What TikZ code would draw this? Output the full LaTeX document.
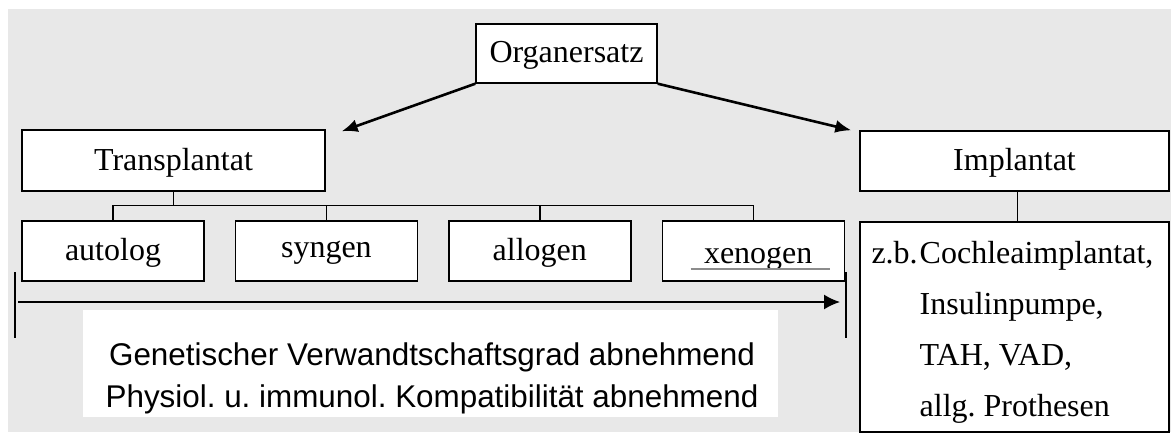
\documentclass[tikz,border=0pt]{standalone}
\usepackage{fontspec}
\setmainfont{Liberation Serif}
\setsansfont{Liberation Sans}
\usetikzlibrary{positioning,arrows.meta}
\definecolor{bggray}{RGB}{232,232,232}
\definecolor{linegray}{RGB}{140,140,140}

\begin{document}
\begin{tikzpicture}[
        x=0.5pt, y=-0.5pt,
        % Abstand zwischen den Unterkaesten
        node distance=15pt,
        box/.style={rectangle, draw, fill=white, line width=0.7pt, inner sep=0pt, text depth=1.6pt, font=\fontsize{16}{19}\selectfont},
        kind/.style={box, minimum width=91pt, minimum height=30pt},
        branch/.style={line width=0.7pt},
        pointer/.style={-{Latex[length=8pt,width=6.5pt]}, line width=1.3pt}
    ]
    \useasboundingbox (0,0) rectangle (1171,433);
    \fill[bggray] (8,9) rectangle (1171,432);

    \node [box, minimum width=90.5pt, minimum height=29.5pt] (organ) at (566.5,53.5) {Organersatz};
    \node [box, minimum width=151.5pt, minimum height=30.5pt] (trans) at (173.5,160.5) {Transplantat};
    \node [box, minimum width=154.5pt, minimum height=30pt] (impl) at (1014.5,161) {Implantat};

    \node [kind] (auto) at (113,251) {autolog};
    \node [kind, right=of auto] (syn) {syngen};
    \node [kind, right=of syn] (allo) {allogen};
    \node [kind, right=of allo, text height=13.6pt] (xeno) {\hspace*{5pt}xenogen};
    \draw[linegray, line width=0.8pt] ([shift={(29,-13)}]xeno.south west) -- ([shift={(-15,-13)}]xeno.south east);

    \node [box, minimum width=154.5pt, minimum height=105pt] (impllist) at (1014.5,327) {};
    \node [anchor=north west, inner sep=0pt, align=left, font=\fontsize{16}{25.5}\selectfont] (impltext)
        at ([shift={(60,20)}]impllist.north west)
        {\llap{z.b.\kern1pt}Cochleaimplantat,\\Insulinpumpe,\\TAH, VAD,\\allg.\ Prothesen};

    \draw[pointer] (organ.south west) -- ([xshift=8pt,yshift=-1pt]trans.north east);
    \draw[pointer] (organ.south east) -- ([xshift=-4pt]impl.north west);

    % Verzweigung
    \draw[branch] (trans.south) -- ([yshift=7.5pt]trans.south |- auto.north);
    \draw[branch] (auto.north) -- ++(0,-15) -| (xeno.north);
    \draw[branch] (syn.north) -- ++(0,-15);
    \draw[branch] (allo.north) -- ++(0,-15);
    \draw[branch] ([xshift=1.5pt]impl.south) -- ([xshift=1.5pt]impllist.north);

    % Verwandtschaftsgrad
    \coordinate (start) at (15,302);
    \coordinate (stop) at (846,302);
    \draw[line width=0.8pt] (start) ++(0,-30) -- ++(0,66);
    \draw[line width=0.8pt] (stop) ++(0,-30) -- ++(0,66);
    \draw[-{Latex[length=8pt,width=7.5pt]}, line width=0.8pt] ([xshift=1.5pt]start) -- ([xshift=-3pt]stop);

    \node [fill=white, minimum width=347.5pt, minimum height=53.5pt, inner sep=0pt] (band) at (430.5,363.5) {};
    \node [align=center, inner sep=0pt, font=\sffamily\fontsize{15.7}{21}\selectfont] (trend) at (432,378)
        {Genetischer Verwandtschaftsgrad abnehmend\\Physiol.\ u.\ immunol.\ Kompatibilität abnehmend};
\end{tikzpicture}
\end{document}
